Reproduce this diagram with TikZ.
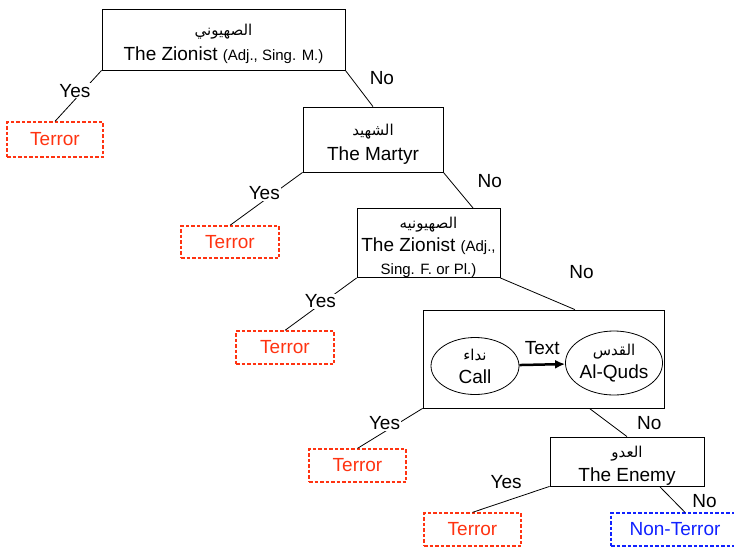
\documentclass[tikz,border=0pt]{standalone}
\usepackage{fontspec}
\setmainfont{Liberation Sans}
\newfontfamily\arabicfont[Script=Arabic]{DejaVu Sans}
\TeXXeTstate=1
\usetikzlibrary{arrows.meta,positioning,calc,shapes.geometric}
\definecolor{terrorred}{RGB}{255,51,17}
\definecolor{safeblue}{RGB}{17,34,255}
\newcommand\arword[1]{{\arabicfont\fontsize{15}{17}\selectfont\rule{0pt}{20pt}\beginR #1\endR}}
\newcommand\arplain[1]{{\arabicfont\fontsize{15}{17}\selectfont\beginR #1\endR}}
\newcommand\smalltxt[1]{{\fontsize{15}{18}\selectfont #1}}

\begin{document}
\begin{tikzpicture}[x=1pt,y=-1pt,>=Latex,line width=0.8pt,
  every node/.style={font=\fontsize{19}{23}\selectfont},
  feature/.style={draw,inner sep=0pt,align=center},
  phrase/.style={draw,ellipse,inner sep=0pt,align=center},
  leaf/.style={draw,dash pattern=on 3.5pt off 2pt,line width=1.3pt,inner sep=0pt,minimum height=33pt,minimum width=97pt},
  terror/.style={leaf,draw=terrorred,text=terrorred},
  safe/.style={leaf,draw=safeblue,text=safeblue},
  yes/.style={fill=white,inner sep=1pt},
  nolbl/.style={inner sep=1pt}]
\useasboundingbox (0,0) rectangle (734,547);
% feature boxes
\node[feature,minimum width=243pt,minimum height=61pt] (b1) at (223.5,39.5)
  {\arword{الصهيوني}\\[2pt]The Zionist \smalltxt{(Adj., Sing. M.)}};
\node[feature,minimum width=140pt,minimum height=65pt] (b2) at (373,139.5)
  {\arword{الشهيد}\\[2pt]The Martyr};
\node[feature,minimum width=143pt,minimum height=62pt] (b3) at (428.5,243)
  {\arword{الصهيونيه}\\The Zionist \smalltxt{(Adj.,}\\\smalltxt{Sing. F. or Pl.)}};
\node[feature,minimum width=241pt,minimum height=98pt] (b4) at (543.5,359) {};
\node[phrase,minimum width=88pt,minimum height=57pt] (call) at (475,366)
  {\arplain{نداء}\\Call};
\node[phrase,minimum width=92pt,minimum height=64pt] (quds) at (614,363)
  {\arplain{القدس}\\Al-Quds};
\draw[-{Latex[length=10pt,width=9pt]},line width=2.5pt] (call) -- node[above,yshift=5pt]{Text} (quds);
\node[feature,minimum width=154pt,minimum height=49pt] (b5) at (627,461.5)
  {\arword{العدو}\\[1pt]The Enemy};
% leaves
\node[terror,minimum width=96pt,minimum height=35pt] (t1) at (55,139.5) {Terror};
\node[terror,minimum width=98pt,minimum height=32pt] (t2) at (230,242) {Terror};
\node[terror,minimum width=98pt] (t3) at (285,347.5) {Terror};
\node[terror] (t4) at (357.5,465.5) {Terror};
\node[terror] (t5) at (472.5,529.5) {Terror};
\node[safe,minimum width=128pt] (nt) at (675,529.5) {Non-Terror};
% branches
\draw (b1.south west) -- node[yes,pos=0.4,xshift=-8pt]{Yes} (t1.north);
\draw (b1.south east) -- node[nolbl,pos=0.2,xshift=31pt]{No} (b2.north);
\draw (b2.south west) -- node[yes,pos=0.39,xshift=-10pt]{Yes} (t2.north);
\draw (b2.south east) -- node[nolbl,pos=0.25,xshift=39pt]{No} ($(b3.north west)!0.81!(b3.north east)$);
\draw (b3.south west) -- node[yes,pos=0.45,xshift=-4pt]{Yes} (t3.north);
\draw (b3.south east) -- node[nolbl,pos=0.9,xshift=14pt,yshift=34pt]{No} ($(b4.north west)!0.63!(b4.north east)$);
\draw (b4.south west) -- node[yes,pos=0.37,xshift=-14pt]{Yes} (t4.north);
\draw ($(b4.south west)!0.69!(b4.south east)$) -- node[nolbl,pos=0.5,xshift=41pt,yshift=-1pt]{No} (b5.north);
\draw (b5.south west) -- node[nolbl,pos=0.5,xshift=-5pt,yshift=17pt]{Yes} (t5.north);
\draw ($(b5.south west)!0.71!(b5.south east)$) -- node[nolbl,pos=0.55,xshift=31pt]{No} ($(nt.north)+(10,0)$);
\end{tikzpicture}
\end{document}
